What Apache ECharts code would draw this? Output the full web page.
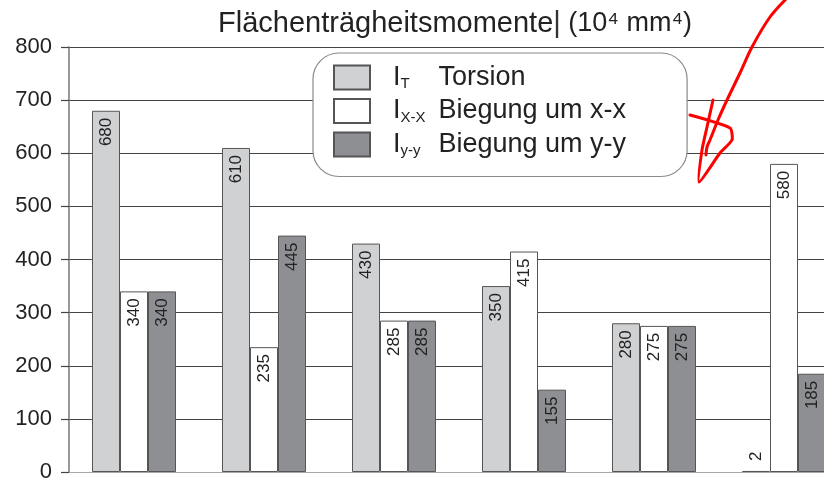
<!DOCTYPE html>
<html>
<head>
<meta charset="utf-8">
<script src="https://cdn.jsdelivr.net/npm/echarts@6/dist/echarts.min.js"></script>
<style>html,body{margin:0;padding:0;background:#fff;overflow:hidden;width:824px;height:483px;}#c{width:849px;height:483px;}</style>
</head>
<body>
<div id="c"></div>
<script>
// ---- data ----
var categories = ['A', 'B', 'C', 'D', 'E', 'F'];
var torsion = [680, 610, 430, 350, 280, 2];
var biegungXX = [340, 235, 285, 415, 275, 580];
var biegungYY = [340, 445, 285, 155, 275, 185];
var seriesNames = ['IT', 'IXX', 'IYY'];
var legendSub = ['T', 'X-X', 'y-y'];
var legendText = ['Torsion', 'Biegung um x-x', 'Biegung um y-y'];
var yTicks = [0, 100, 200, 300, 400, 500, 600, 700, 800];
var titleMain = 'Flächenträgheitsmomente';
var titleUnit = '(10⁴ mm⁴)';

var FONT = '"Liberation Sans", Arial, sans-serif';
var colors = ['#d0d1d3', '#ffffff', '#8e8f93'];

function buildData(vals) {
  return vals.map(function (v) {
    if (v < 30) {
      return { value: v, label: { position: 'top', align: 'left', distance: 10 } };
    }
    return v;
  });
}

var valueSets = [torsion, biegungXX, biegungYY];
var series = valueSets.map(function (vals, i) {
  return {
    name: seriesNames[i],
    type: 'bar',
    barWidth: 28,
    barGap: '0%',
    data: buildData(vals),
    itemStyle: { color: colors[i], borderColor: '#555', borderWidth: 1 },
    label: {
      show: true,
      rotate: 90,
      position: 'insideTop',
      align: 'right',
      verticalAlign: 'middle',
      distance: 7,
      fontSize: 17,
      fontFamily: FONT,
      color: '#222'
    },
    emphasis: { disabled: true }
  };
});

// red hand-drawn annotation
var scribble1 = [[787, -2], [770, 17], [752, 47], [740, 73], [727, 100], [718, 120], [710, 140], [707, 147], [706, 155]];
var scribble2 = [[690, 115], [730, 128], [732, 140], [720, 153], [699, 182], [702, 150], [707, 127], [713, 100]];

var chart = echarts.init(document.getElementById('c'), null, { renderer: 'canvas' });
chart.setOption({
  animation: false,
  backgroundColor: '#fff',
  title: {
    text: '{a|' + titleMain + '}{c||}{u| ' + titleUnit + '}',
    left: 213,
    top: 4,
    textStyle: {
      rich: {
        a: { fontSize: 29, fontFamily: FONT, color: '#222', fontWeight: 'normal' },
        c: { fontSize: 29, fontFamily: FONT, color: '#333', fontWeight: 'normal' },
        u: { fontSize: 27, fontFamily: FONT, color: '#222', fontWeight: 'normal' }
      }
    }
  },
  grid: { left: 69, right: 0, top: 47, bottom: 9, containLabel: false },
  legend: {
    orient: 'vertical',
    left: 313,
    top: 53,
    data: seriesNames,
    backgroundColor: '#fff',
    borderColor: '#8a8a8a',
    borderWidth: 1.2,
    borderRadius: 26,
    padding: [11, 61, 18, 20],
    itemWidth: 36,
    itemHeight: 24,
    itemGap: 6,
    icon: 'rect',
    formatter: function (name) {
      var i = seriesNames.indexOf(name);
      return '{g| }{i|I}{s|' + legendSub[i] + '}{t|' + legendText[i] + '}';
    },
    textStyle: {
      rich: {
        g: { fontSize: 10, width: 18, lineHeight: 28 },
        i: { fontSize: 27, fontFamily: FONT, color: '#222', lineHeight: 28 },
        s: { fontSize: 15, fontFamily: FONT, color: '#222', width: 38, align: 'left', lineHeight: 14, verticalAlign: 'bottom' },
        t: { fontSize: 27, fontFamily: FONT, color: '#222', lineHeight: 28 }
      }
    }
  },
  xAxis: {
    type: 'category',
    data: categories,
    axisLabel: { show: false },
    axisTick: { show: false },
    axisLine: { lineStyle: { color: '#aaa', width: 1 } },
    splitLine: { show: false }
  },
  yAxis: {
    type: 'value',
    min: yTicks[0],
    max: yTicks[yTicks.length - 1],
    interval: yTicks[1] - yTicks[0],
    axisLine: { show: true, lineStyle: { color: '#777', width: 1.5 } },
    axisTick: { show: true, length: 8, lineStyle: { color: '#444', width: 1.2 } },
    splitLine: { show: true, lineStyle: { color: '#444', width: 1.2 } },
    axisLabel: { fontSize: 22, fontFamily: FONT, color: '#222', margin: 17 }
  },
  series: series,
  graphic: [
    { type: 'polyline', z: 100, shape: { points: scribble1, smooth: 0.3 }, style: { stroke: '#ff0000', lineWidth: 3, fill: null, lineCap: 'round', lineJoin: 'round' } },
    { type: 'polyline', z: 100, shape: { points: scribble2, smooth: 0.2 }, style: { stroke: '#ff0000', lineWidth: 3, fill: null, lineCap: 'round', lineJoin: 'round' } }
  ]
});
</script>
</body>
</html>
